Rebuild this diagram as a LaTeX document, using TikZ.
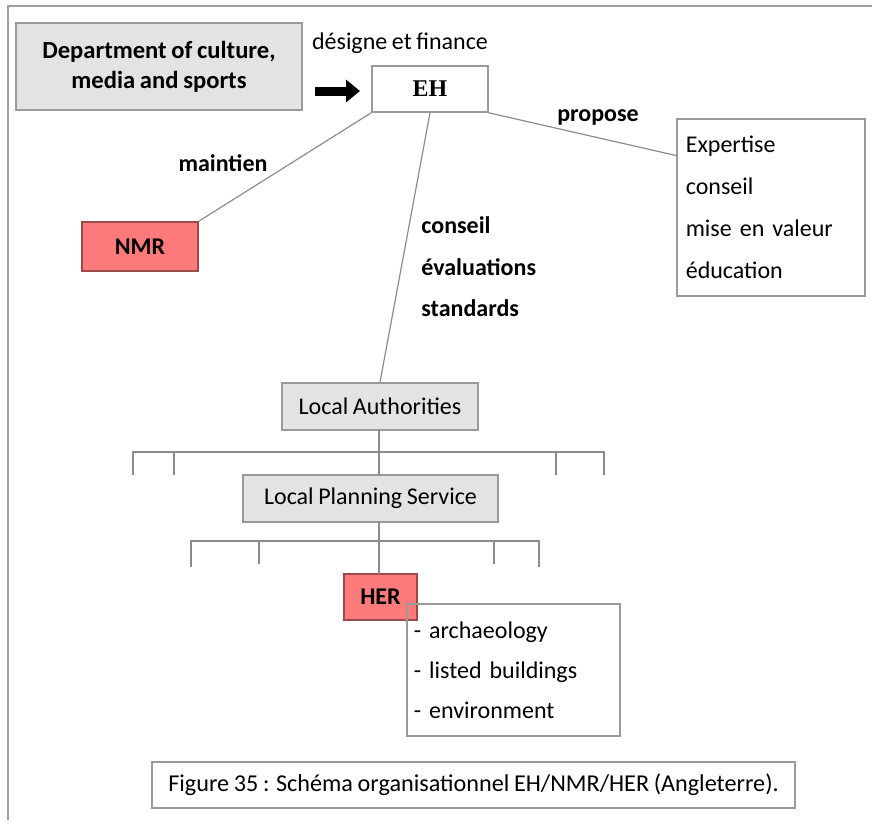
\documentclass[tikz,border=0pt]{standalone}
\usepackage{fontspec}
\setmainfont[WordSpace=0.85]{Carlito}
\newfontfamily\ehfont{Liberation Serif}
\usetikzlibrary{arrows.meta,calc}
\definecolor{boxgray}{HTML}{E3E3E3}
\definecolor{edgegray}{HTML}{9A9A9A}
\definecolor{salmon}{HTML}{FF7B7B}
\definecolor{salmonedge}{HTML}{9B4A4A}
\definecolor{linegray}{HTML}{8C8C8C}
\definecolor{framegray}{HTML}{9E9E9E}
\begin{document}
\begin{tikzpicture}[x=0.5pt,y=-0.5pt,
  graybox/.style={draw=edgegray, fill=boxgray, line width=0.8pt, font=\fontsize{12}{14}\selectfont, inner sep=0pt, align=center},
  redbox/.style={draw=salmonedge, fill=salmon, line width=0.8pt, font=\bfseries\fontsize{12}{14}\selectfont, inner sep=0pt},
  whitebox/.style={draw=edgegray, line width=0.8pt, inner sep=0pt},
  lbl/.style={font=\bfseries\fontsize{12}{14}\selectfont, inner sep=0pt},
  conn/.style={draw=linegray, line width=0.6pt}]
\useasboundingbox (0,0) rectangle (872,820);
% frame
\draw[framegray, line width=1.2pt] (8,820) -- (8,6) -- (872,6);

% boxes
\node[graybox, minimum width=143pt, minimum height=43.5pt, font=\bfseries\fontsize{12.3}{15}\selectfont] (dept) at (159,66.5) {Department of culture,\\media and sports};
\node[whitebox, fill=white, minimum width=58pt, minimum height=23pt, font=\ehfont\bfseries\fontsize{12}{14}\selectfont] (eh) at (430,89) {EH};
\node[redbox, minimum width=58pt, minimum height=24.5pt] (nmr) at (140,246.5) {NMR};
\node[whitebox, anchor=north west, minimum height=88.5pt, text width=85pt, inner xsep=4.5pt, align=left, font=\fontsize{12}{21}\selectfont] (exp) at (676,118) {Expertise\\conseil\\mise en valeur\\éducation};
\node[graybox, minimum width=98pt, minimum height=23.5pt] (la) at (380,406.5) {Local Authorities};
\node[graybox, minimum width=127.5pt, minimum height=23.5pt] (lps) at (370.5,498.5) {Local Planning Service};
\node[redbox, minimum width=36.5pt, minimum height=23pt] (her) at (380.5,597) {HER};
\node[whitebox, anchor=north west, minimum height=66pt, text width=99.5pt, inner xsep=3.5pt, align=left, font=\fontsize{12}{20}\selectfont] (items) at (406,603) {- archaeology\\- listed buildings\\- environment};
\node[whitebox, fill=white, minimum width=321.5pt, minimum height=23pt, font=\fontsize{12.1}{14}\selectfont] (cap) at (473.5,785) {Figure 35 : Schéma organisationnel EH/NMR/HER (Angleterre).};

% labels
\node[font=\fontsize{12}{14}\selectfont, inner sep=0pt] (lfin) at (400,43) {désigne et finance};
\node[lbl] (lmain) at (223,163) {maintien};
\node[lbl] (lprop) at (598,117) {propose};
\node[lbl, anchor=west] (lcons) at (421,225) {conseil};
\node[lbl, anchor=west] (leval) at (421,267) {évaluations};
\node[lbl, anchor=west] (lstd) at (421,308) {standards};

% fat arrow
\coordinate (arrs) at (315,91);
\coordinate (arre) at (360,91);
\draw[line width=4.5pt, -{Triangle[length=7pt,width=11pt]}] (arrs) -- (arre);

% connectors from EH
\draw[conn] (eh.south west) -- (nmr.north east);
\draw[conn] (eh.south) -- (la.north);
\draw[conn] (eh.south east) -- ($(exp.north west)!0.21!(exp.south west)$);

% tree 1
\draw[conn] (379,430) -- (379,475);
\draw[conn] (133,475) -- (133,452) -- (604,452) -- (604,475);
\draw[conn] (174,452) -- (174,475);
\draw[conn] (556,452) -- (556,475);

% tree 2
\draw[conn] (379,522) -- (379,574);
\draw[conn] (191,567) -- (191,541) -- (539,541) -- (539,567);
\draw[conn] (259,541) -- (259,564);
\draw[conn] (494,541) -- (494,564);
\end{tikzpicture}
\end{document}
